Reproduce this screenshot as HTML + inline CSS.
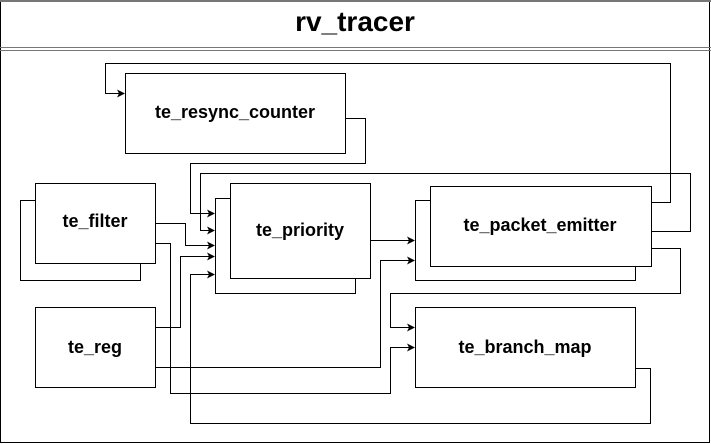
<!DOCTYPE html>
<html><head><style>
html,body{margin:0;padding:0;background:#fff;}
svg{display:block;}
text{font-family:"Liberation Sans",sans-serif;font-weight:bold;fill:#000;}
</style></head><body>
<svg width="711" height="444" viewBox="0 0 711 444" xmlns="http://www.w3.org/2000/svg">
<defs><marker id="a" markerWidth="8" markerHeight="8" refX="7" refY="4" orient="auto" markerUnits="userSpaceOnUse"><path d="M0,0 L8,4 L0,8 L2,4 z" fill="#000"/></marker></defs>
<rect x="0.5" y="0.5" width="709" height="442" fill="#fff" stroke="#000"/>
<line x1="0" y1="1" x2="711" y2="1" stroke="#777" stroke-width="2"/>
<line x1="0" y1="47.5" x2="711" y2="47.5" stroke="#777"/>
<line x1="0" y1="50.5" x2="711" y2="50.5" stroke="#777"/>
<text x="355" y="31" font-size="28" text-anchor="middle">rv_tracer</text>
<g fill="none" stroke="#000" stroke-width="1">
<!-- back boxes -->
<rect x="20.5" y="200.5" width="120" height="80" fill="#fff"/>
<rect x="35.5" y="183.5" width="120" height="80" fill="#fff"/>
<rect x="215.5" y="198.5" width="140" height="95" fill="#fff"/>
<rect x="230.5" y="183.5" width="140" height="95" fill="#fff"/>
<rect x="415.5" y="200.5" width="220" height="80" fill="#fff"/>
<rect x="430.5" y="186.5" width="221" height="80" fill="#fff"/>
<rect x="125.5" y="73.5" width="220" height="80" fill="#fff"/>
<rect x="35.5" y="307.5" width="120" height="80" fill="#fff"/>
<rect x="415.5" y="307.5" width="220" height="80" fill="#fff"/>
<!-- connectors -->
<polyline points="651.5,202.5 670.5,202.5 670.5,63.5 105.5,63.5 105.5,93.5 124,93.5" marker-end="url(#a)"/>
<polyline points="345.5,118.5 365.5,118.5 365.5,163.5 190.5,163.5 190.5,213.5 214,213.5" marker-end="url(#a)"/>
<polyline points="651.5,231.5 690.5,231.5 690.5,173.5 200.5,173.5 200.5,230.5 214,230.5" marker-end="url(#a)"/>
<polyline points="155.5,223.5 185.5,223.5 185.5,245.5 214,245.5" marker-end="url(#a)"/>
<polyline points="155.5,243.5 170.5,243.5 170.5,393.5 390.5,393.5 390.5,347.5 414,347.5" marker-end="url(#a)"/>
<polyline points="155.5,327.5 180.5,327.5 180.5,256.5 214,256.5" marker-end="url(#a)"/>
<polyline points="155.5,367.5 380.5,367.5 380.5,260.5 414,260.5" marker-end="url(#a)"/>
<polyline points="635.5,368.5 650.5,368.5 650.5,423.5 190.5,423.5 190.5,274.5 214,274.5" marker-end="url(#a)"/>
<polyline points="370.5,240.5 414,240.5" marker-end="url(#a)"/>
<polyline points="651.5,248.5 680.5,248.5 680.5,293.5 390.5,293.5 390.5,327.5 414,327.5" marker-end="url(#a)"/>
</g>
<g font-size="18" text-anchor="middle">
<text x="95" y="227">te_filter</text>
<text x="300" y="236">te_priority</text>
<text x="540" y="231">te_packet_emitter</text>
<text x="235" y="118">te_resync_counter</text>
<text x="95" y="353">te_reg</text>
<text x="525" y="353">te_branch_map</text>
</g>
</svg>
</body></html>
